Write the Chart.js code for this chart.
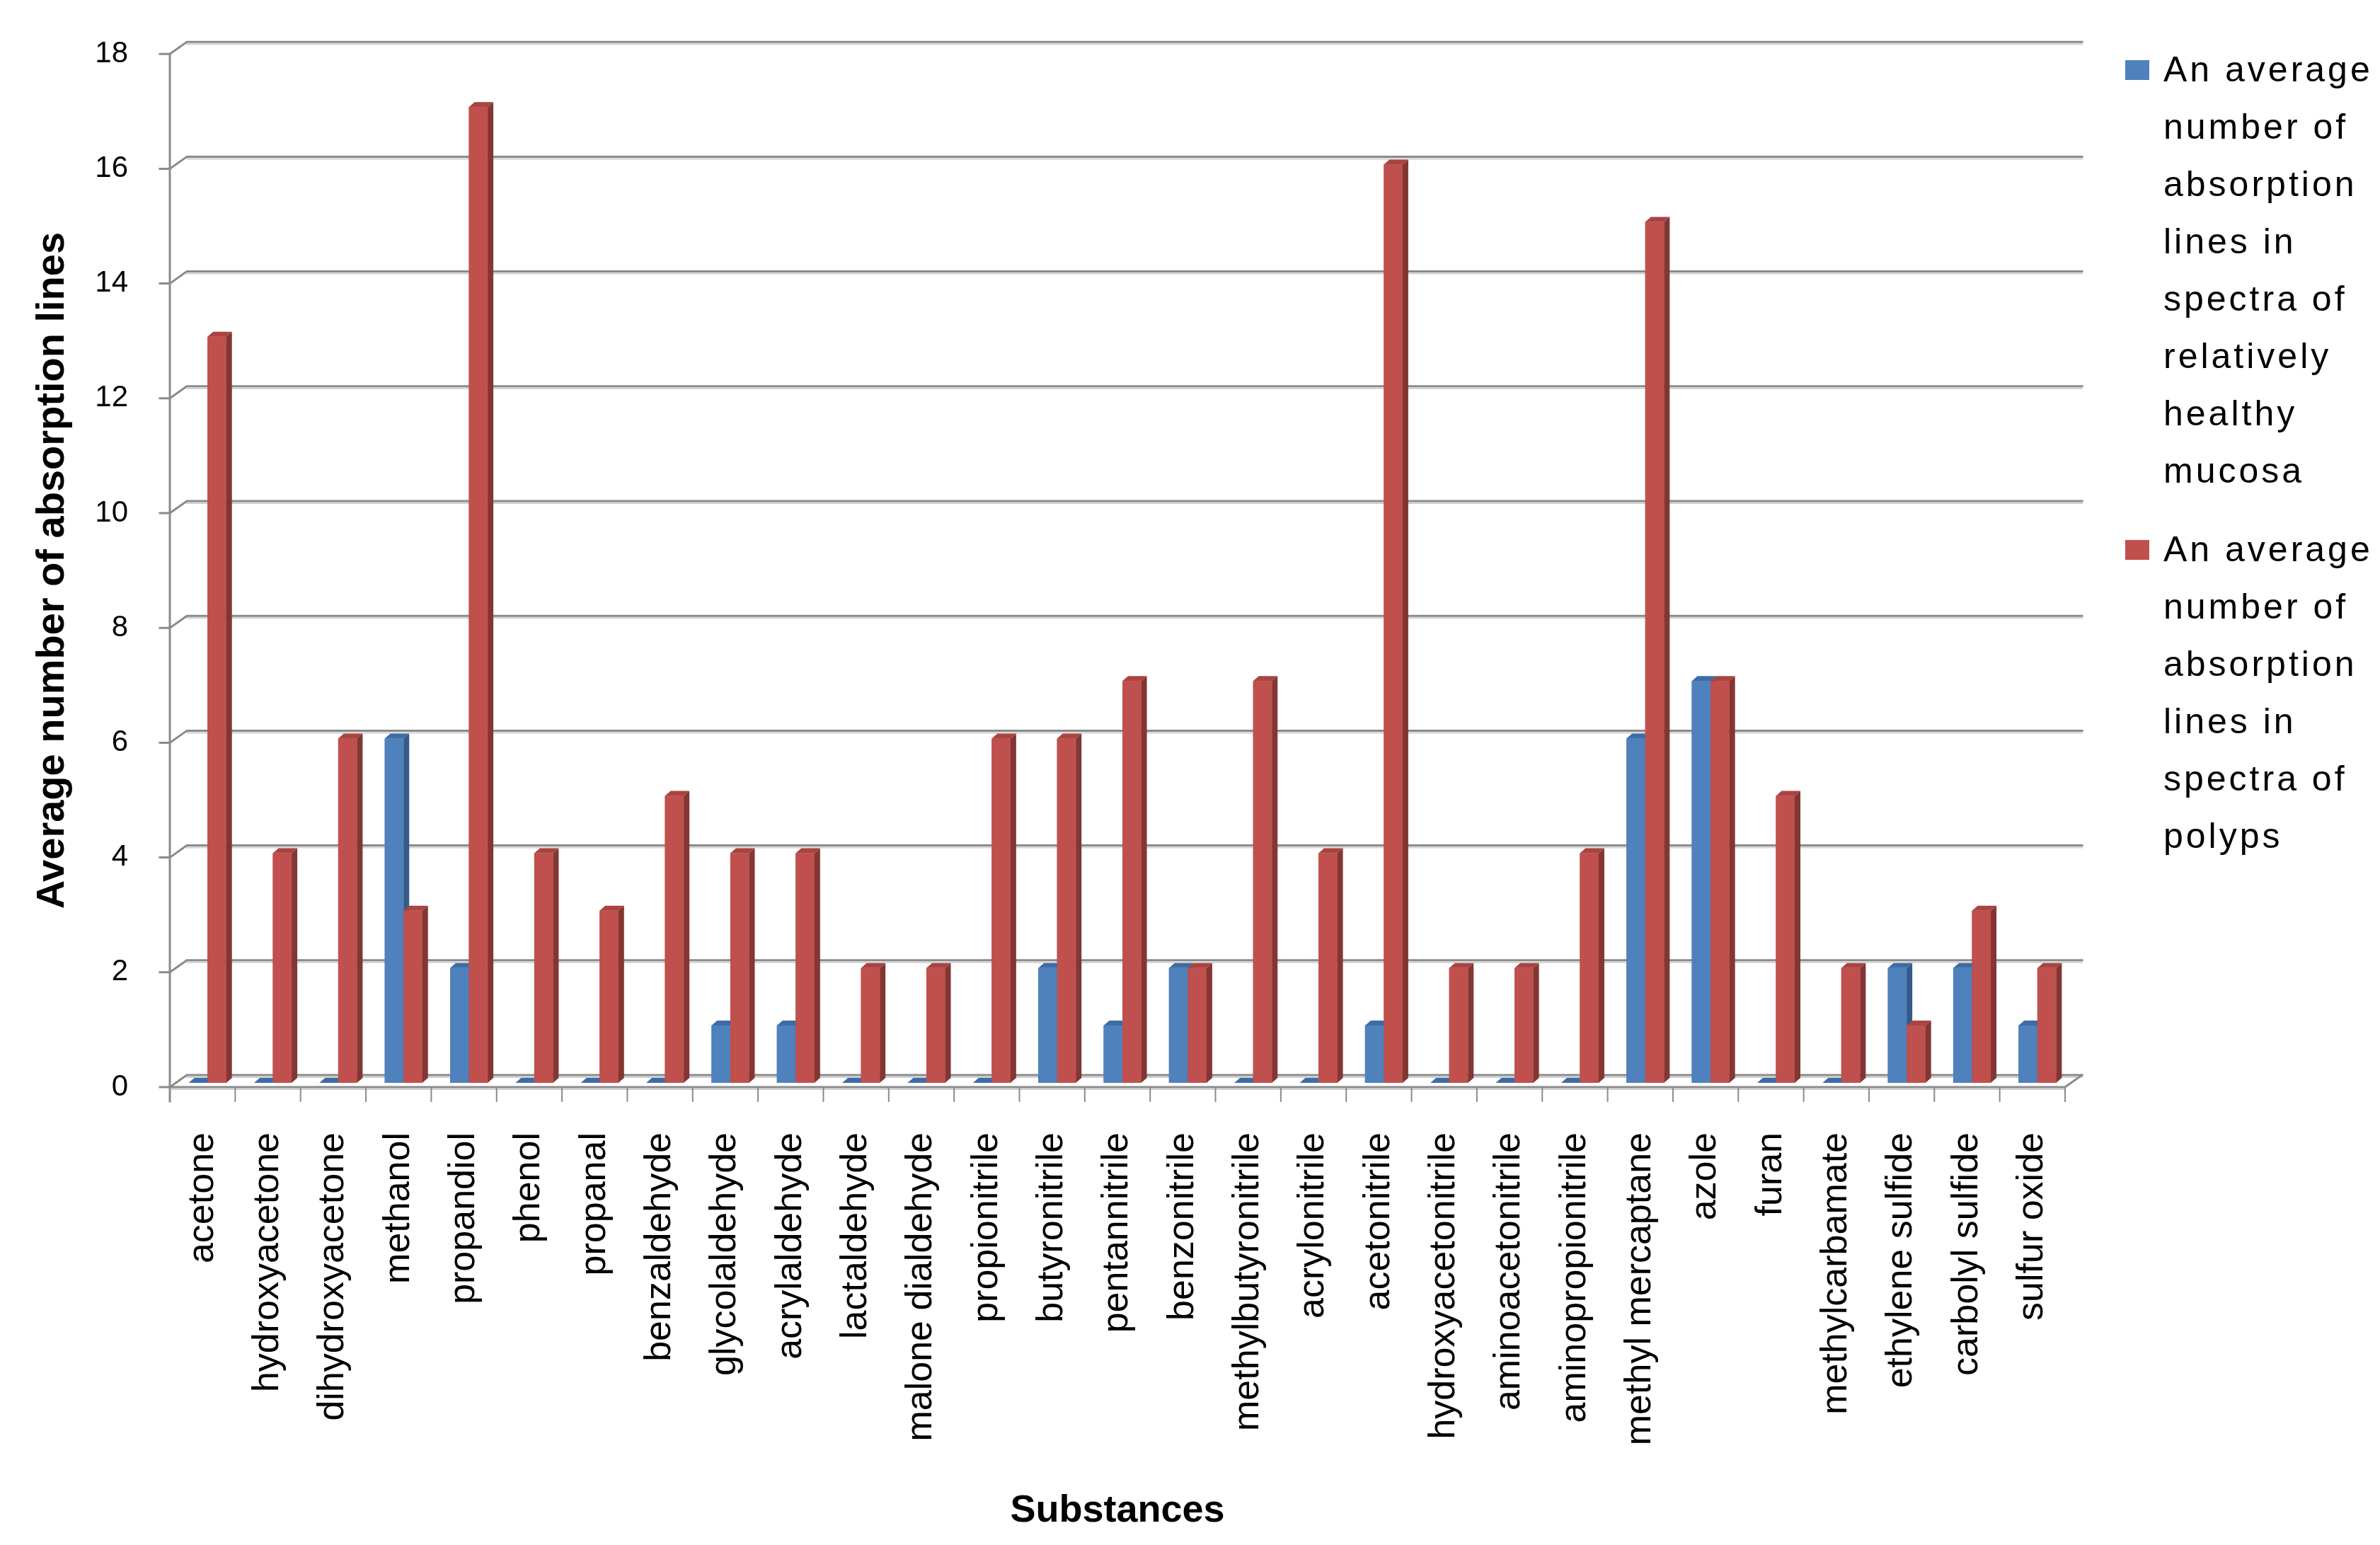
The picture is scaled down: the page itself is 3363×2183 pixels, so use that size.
<!DOCTYPE html>
<html>
<head>
<meta charset="utf-8">
<script src="https://cdn.jsdelivr.net/npm/chart.js@4.4.0/dist/chart.umd.min.js"></script>
<style>
  html, body { margin: 0; padding: 0; background: #fff; }
  #wrap { position: relative; width: 3363px; height: 2183px; }
  #legend {
    position: absolute; left: 3003px; top: 58px;
    font-family: "Liberation Sans", Arial, sans-serif;
    font-size: 50px; line-height: 81px; letter-spacing: 4px; color: #000;
  }
  .item { position: relative; padding-left: 54px; width: 306px; }
  .item + .item { margin-top: 30px; }
  .swatch { position: absolute; left: 0; top: 27px; width: 34px; height: 28px; }
</style>
</head>
<body>
<div id="wrap">
  <canvas id="chart" width="3363" height="2183"></canvas>
  <div id="legend"></div>
</div>
<script>
// ========= Data =========
const categories = [
  "acetone", "hydroxyacetone", "dihydroxyacetone", "methanol", "propandiol",
  "phenol", "propanal", "benzaldehyde", "glycolaldehyde", "acrylaldehyde",
  "lactaldehyde", "malone dialdehyde", "propionitrile", "butyronitrile",
  "pentannitrile", "benzonitrile", "methylbutyronitrile", "acrylonitrile",
  "acetonitrile", "hydroxyacetonitrile", "aminoacetonitrile",
  "aminopropionitrile", "methyl mercaptane", "azole", "furan",
  "methylcarbamate", "ethylene sulfide", "carbolyl sulfide", "sulfur oxide"
];
const healthy = [0, 0, 0, 6, 2, 0, 0, 0, 1, 1, 0, 0, 0, 2, 1, 2, 0, 0, 1, 0, 0, 0, 6, 7, 0, 0, 2, 2, 1];
const polyps  = [13, 4, 6, 3, 17, 4, 3, 5, 4, 4, 2, 2, 6, 6, 7, 2, 7, 4, 16, 2, 2, 4, 15, 7, 5, 2, 1, 3, 2];
const seriesNames = [
  "An average number of absorption lines in spectra of relatively healthy mucosa",
  "An average number of absorption lines in spectra of polyps"
];
const yMin = 0, yMax = 18, yStep = 2;

// ========= Look =========
const shades = [
  { front: "#4f81bd", top: "#3d6ca6", side: "#345b8c" },
  { front: "#c0504d", top: "#a94441", side: "#833633" }
];
const DX = 24, DY = -17;   // back wall depth
const BX = 7, BY = -6;     // bars stand mid-depth
const SX = 8, SY = -7;     // bar top / side depth
const GRID = "#8a8a8a";

function drawBar(ctx, bar, c) {
  const { x, y, base, width } = bar.getProps(["x", "y", "base", "width"], true);
  const l = x - width / 2, r = x + width / 2;
  ctx.fillStyle = c.front;
  ctx.fillRect(l, y, width, base - y);
  ctx.fillStyle = c.top;
  ctx.beginPath();
  ctx.moveTo(l, y); ctx.lineTo(l + SX, y + SY); ctx.lineTo(r + SX, y + SY); ctx.lineTo(r, y);
  ctx.closePath(); ctx.fill();
  ctx.fillStyle = c.side;
  ctx.beginPath();
  ctx.moveTo(r, y); ctx.lineTo(r + SX, y + SY); ctx.lineTo(r + SX, base + SY); ctx.lineTo(r, base);
  ctx.closePath(); ctx.fill();
}

const wallPlugin = {
  id: "wall",
  beforeDatasetsDraw(chart) {
    const { ctx, chartArea: a, scales: { x, y } } = chart;
    ctx.save();
    ctx.lineCap = "square";
    // back wall gridlines with their slanted joins
    y.ticks.forEach(t => {
      const py = y.getPixelForValue(t.value);
      ctx.strokeStyle = "#cfcfcf"; ctx.lineWidth = 2;
      ctx.beginPath();
      ctx.moveTo(a.left + DX, py + DY + 3); ctx.lineTo(a.right + DX, py + DY + 3);
      ctx.stroke();
      ctx.strokeStyle = GRID; ctx.lineWidth = 3;
      ctx.beginPath();
      ctx.moveTo(a.left - 14, py); ctx.lineTo(a.left, py);
      ctx.lineTo(a.left + DX, py + DY); ctx.lineTo(a.right + DX, py + DY);
      ctx.stroke();
    });
    // left axis
    ctx.beginPath();
    ctx.moveTo(a.left, y.getPixelForValue(yMax));
    ctx.lineTo(a.left, a.bottom + 20);
    ctx.stroke();
    // floor front edge and right edge
    ctx.strokeStyle = "#cfcfcf"; ctx.lineWidth = 2;
    ctx.beginPath();
    ctx.moveTo(a.left, a.bottom + 3); ctx.lineTo(a.right, a.bottom + 3);
    ctx.stroke();
    ctx.strokeStyle = GRID; ctx.lineWidth = 3;
    ctx.beginPath();
    ctx.moveTo(a.left, a.bottom); ctx.lineTo(a.right, a.bottom);
    ctx.lineTo(a.right + DX, a.bottom + DY);
    ctx.stroke();
    // category tick marks
    ctx.lineWidth = 2;
    for (let i = 0; i <= categories.length; i++) {
      const px = x.getPixelForValue(i - 0.5);
      ctx.beginPath();
      ctx.moveTo(px, a.bottom); ctx.lineTo(px, a.bottom + 20);
      ctx.stroke();
    }
    ctx.restore();
    ctx.save();
    ctx.translate(BX, BY);
  },
  afterDatasetsDraw(chart) {
    const ctx = chart.ctx;
    const metas = chart.data.datasets.map((d, i) => chart.getDatasetMeta(i));
    categories.forEach((c, i) => {
      metas.forEach((m, d) => drawBar(ctx, m.data[i], shades[d]));
    });
    ctx.restore();
  }
};

const tickFont = { family: "'Liberation Sans', Arial, sans-serif", size: 42 };
const catFont = { family: "'Liberation Sans', Arial, sans-serif", size: 52 };

const chart = new Chart(document.getElementById("chart"), {
  type: "bar",
  data: {
    labels: categories,
    datasets: [
      { label: seriesNames[0], data: healthy, backgroundColor: shades[0].front },
      { label: seriesNames[1], data: polyps, backgroundColor: shades[1].front }
    ]
  },
  options: {
    responsive: false,
    animation: false,
    devicePixelRatio: 1,
    layout: { padding: { left: 0, right: 445, top: 64, bottom: 0 } },
    datasets: { bar: { categoryPercentage: 0.575, barPercentage: 1, clip: false } },
    plugins: { legend: { display: false }, tooltip: { enabled: false } },
    scales: {
      x: {
        grid: { display: false },
        border: { display: false },
        ticks: {
          autoSkip: false, minRotation: 90, maxRotation: 90,
          padding: 56, color: "#000", font: catFont
        },
        title: {
          display: true, text: "Substances", color: "#000",
          font: { family: "'Liberation Sans', Arial, sans-serif", size: 54, weight: "bold" },
          padding: { top: 0, bottom: 15 }
        },
        afterFit(scale) { scale.height = 647; }
      },
      y: {
        min: yMin, max: yMax,
        grid: { display: false },
        border: { display: false },
        ticks: { stepSize: yStep, padding: 51, color: "#000", font: tickFont },
        title: {
          display: true, text: "Average number of absorption lines", color: "#000",
          font: { family: "'Liberation Sans', Arial, sans-serif", size: 56, weight: "bold" },
          padding: { top: 41, bottom: 0 }
        },
        afterFit(scale) { scale.width = 240; }
      }
    }
  },
  plugins: [wallPlugin]
});

// ========= Legend =========
const legend = document.getElementById("legend");
chart.data.datasets.forEach((ds, i) => {
  const item = document.createElement("div");
  item.className = "item";
  const sw = document.createElement("span");
  sw.className = "swatch";
  sw.style.background = shades[i].front;
  item.appendChild(sw);
  item.appendChild(document.createTextNode(ds.label));
  legend.appendChild(item);
});
</script>
</body>
</html>
